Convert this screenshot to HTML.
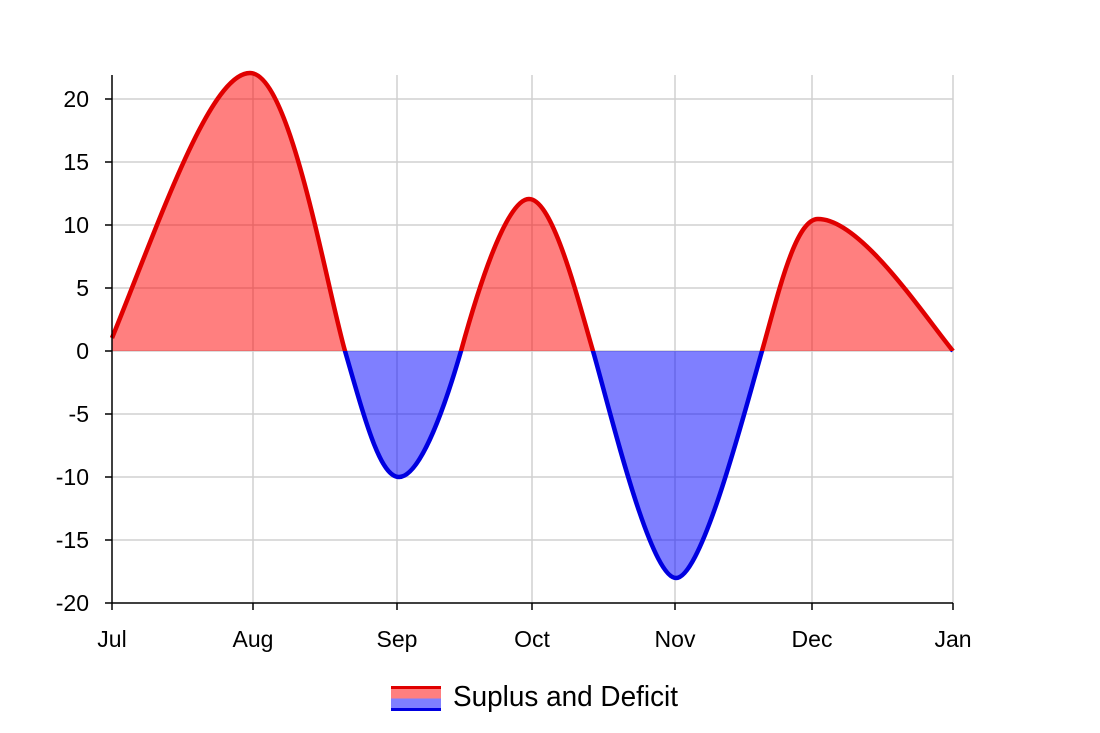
<!DOCTYPE html>
<html><head><meta charset="utf-8"><style>body{margin:0;background:#fff}svg{display:block}text{font-family:"Liberation Sans",sans-serif;fill:#000}</style></head><body>
<svg width="1100" height="733" viewBox="0 0 1100 733">
<defs>
<clipPath id="up"><rect x="0" y="0" width="1100" height="351"/></clipPath>
<clipPath id="dn"><rect x="0" y="351" width="1100" height="400"/></clipPath>
</defs>
<g stroke="#d0d0d0" stroke-width="1.5">
<line x1="112" x2="953" y1="99" y2="99"/><line x1="112" x2="953" y1="162" y2="162"/><line x1="112" x2="953" y1="225" y2="225"/><line x1="112" x2="953" y1="288" y2="288"/><line x1="112" x2="953" y1="351" y2="351"/><line x1="112" x2="953" y1="414" y2="414"/><line x1="112" x2="953" y1="477" y2="477"/><line x1="112" x2="953" y1="540" y2="540"/>
<line x1="253" x2="253" y1="75" y2="603"/><line x1="397" x2="397" y1="75" y2="603"/><line x1="532" x2="532" y1="75" y2="603"/><line x1="675" x2="675" y1="75" y2="603"/><line x1="812" x2="812" y1="75" y2="603"/><line x1="953" x2="953" y1="75" y2="603"/>
</g>
<path id="c" d="M112,338 C160,220 210,73 250,73 C290,73 325,280 345,351 C365,420 380,477 399,477 C418,477 441,420 461,351 C475,300 505,199 529,199 C553,199 578,300 593,351 C610,410 650,578 676,578 C702,578 745,410 762,351 C778,295 795,219 818,219 C860,219 920,310 953,351" fill="none"/>
<g clip-path="url(#up)"><path d="M112,338 C160,220 210,73 250,73 C290,73 325,280 345,351 C365,420 380,477 399,477 C418,477 441,420 461,351 C475,300 505,199 529,199 C553,199 578,300 593,351 C610,410 650,578 676,578 C702,578 745,410 762,351 C778,295 795,219 818,219 C860,219 920,310 953,351 L112,351Z" fill="rgba(255,0,0,0.5)"/>
<use href="#c" stroke="#e00000" stroke-width="4.5"/></g>
<g clip-path="url(#dn)"><path d="M112,338 C160,220 210,73 250,73 C290,73 325,280 345,351 C365,420 380,477 399,477 C418,477 441,420 461,351 C475,300 505,199 529,199 C553,199 578,300 593,351 C610,410 650,578 676,578 C702,578 745,410 762,351 C778,295 795,219 818,219 C860,219 920,310 953,351 L112,351Z" fill="rgba(0,0,255,0.5)"/>
<use href="#c" stroke="#0000e0" stroke-width="4.5"/></g>
<g stroke="#000" stroke-width="1.5">
<line x1="112" x2="112" y1="75" y2="603"/><line x1="112" x2="953" y1="603" y2="603"/>
<line x1="112" x2="112" y1="603" y2="610"/><line x1="253" x2="253" y1="603" y2="610"/><line x1="397" x2="397" y1="603" y2="610"/><line x1="532" x2="532" y1="603" y2="610"/><line x1="675" x2="675" y1="603" y2="610"/><line x1="812" x2="812" y1="603" y2="610"/><line x1="953" x2="953" y1="603" y2="610"/>
<line x1="105" x2="112" y1="99" y2="99"/><line x1="105" x2="112" y1="162" y2="162"/><line x1="105" x2="112" y1="225" y2="225"/><line x1="105" x2="112" y1="288" y2="288"/><line x1="105" x2="112" y1="351" y2="351"/><line x1="105" x2="112" y1="414" y2="414"/><line x1="105" x2="112" y1="477" y2="477"/><line x1="105" x2="112" y1="540" y2="540"/><line x1="105" x2="112" y1="603" y2="603"/>
</g>
<g font-size="23" text-anchor="end">
<text x="89" y="107">20</text><text x="89" y="170">15</text><text x="89" y="233">10</text><text x="89" y="296">5</text><text x="89" y="359">0</text><text x="89" y="422">-5</text><text x="89" y="485">-10</text><text x="89" y="548">-15</text><text x="89" y="611">-20</text>
</g>
<g font-size="23" text-anchor="middle">
<text x="112" y="647">Jul</text><text x="253" y="647">Aug</text><text x="397" y="647">Sep</text><text x="532" y="647">Oct</text><text x="675" y="647">Nov</text><text x="812" y="647">Dec</text><text x="953" y="647">Jan</text>
</g>
<rect x="391" y="686" width="50" height="12.5" fill="rgba(255,0,0,0.5)"/>
<rect x="391" y="698.5" width="50" height="12.5" fill="rgba(0,0,255,0.5)"/>
<line x1="391" x2="441" y1="687.5" y2="687.5" stroke="#e00000" stroke-width="3"/>
<line x1="391" x2="441" y1="709.5" y2="709.5" stroke="#0000e0" stroke-width="3"/>
<text x="453" y="706" font-size="29" textLength="225" lengthAdjust="spacingAndGlyphs">Suplus and Deficit</text>
</svg>
</body></html>
